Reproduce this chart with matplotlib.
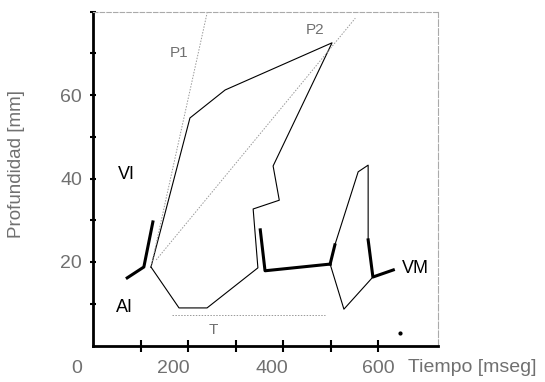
import matplotlib
matplotlib.use("Agg")
import matplotlib.pyplot as plt
import matplotlib.transforms as mtransforms

plt.rcParams['font.family'] = ['Liberation Sans', 'DejaVu Sans']

# thin loop (cycle)
loop_x = [122, 204, 278, 503, 379, 392, 337, 347, 240, 181, 122]
loop_y = [18.8, 54.5, 61.2, 72.5, 43.0, 34.8, 32.7, 18.6, 9.0, 9.0, 18.8]

# thick segments
ai_x = [72, 107, 126]
ai_y = [16.2, 18.8, 29.6]
mid_x = [352, 362, 499]
mid_y = [27.7, 17.9, 19.5]

# VM loop
vm_thin1_x = [509, 558, 579, 579]
vm_thin1_y = [24.1, 41.6, 43.2, 25.3]
vm_thin2_x = [589, 528, 499]
vm_thin2_y = [16.4, 8.7, 19.5]
vm_thick1_x = [499, 509]
vm_thick1_y = [19.5, 24.1]
vm_thick2_x = [579, 589, 632]
vm_thick2_y = [25.3, 16.4, 18.1]

# dotted guides
p1_x = [122, 240]
p1_y = [18.8, 79.6]
p2_x = [133, 552]
p2_y = [20.5, 78.4]
t_x = [166, 488]
t_y = [7.3, 7.3]

dot_x = [646]
dot_y = [3]

xtick_marks = [100, 200, 300, 400, 500, 600]
xlabel_text = ['0', '200', '400', '600']
xlabel_pos = [-34, 170, 377, 600]
ytick_major = [20, 40, 60]
ytick_minor = [10, 30, 50, 70, 80]

gray = '#707070'

fig = plt.figure(figsize=(5.45, 3.82), dpi=100)
ax = fig.add_axes([93/545, 1 - 345.5/382, 345/545, 334/382])

ax.plot(loop_x, loop_y, color='black', lw=0.8)
ax.plot(ai_x, ai_y, color='black', lw=2.2)
ax.plot(mid_x, mid_y, color='black', lw=2.2)
ax.plot(vm_thin1_x, vm_thin1_y, color='black', lw=0.8)
ax.plot(vm_thin2_x, vm_thin2_y, color='black', lw=0.8)
ax.plot(vm_thick1_x, vm_thick1_y, color='black', lw=2.2)
ax.plot(vm_thick2_x, vm_thick2_y, color='black', lw=2.2)
ax.plot(p1_x, p1_y, color='#999999', lw=0.7, ls=(0, (1.5, 1.5)))
ax.plot(p2_x, p2_y, color='#999999', lw=0.7, ls=(0, (1.5, 1.5)))
ax.plot(t_x, t_y, color='#999999', lw=0.7, ls=(0, (1.5, 1.5)))
ax.plot(dot_x, dot_y, 'o', color='black', ms=2)

ax.text(71, 40.9, 'VI', fontsize=13, color='black', ha='center', va='center')
ax.text(67, 9, 'AI', fontsize=13, color='black', ha='center', va='center')
ax.text(678, 18.5, 'VM', fontsize=13, color='black', ha='center', va='center')
ax.text(181, 70, 'P1', fontsize=11, color=gray, ha='center', va='center')
ax.text(467, 75.6, 'P2', fontsize=11, color=gray, ha='center', va='center')
ax.text(253, 3.7, 'T', fontsize=11, color=gray, ha='center', va='center')

ax.set_xlim(0, 726)
ax.set_ylim(0, 80)

ax.spines['left'].set_linewidth(2)
ax.spines['bottom'].set_linewidth(2)
ax.spines['top'].set_color('#aaaaaa')
ax.spines['top'].set_linewidth(0.8)
ax.spines['top'].set_linestyle((0, (4, 2)))
ax.spines['right'].set_color('#aaaaaa')
ax.spines['right'].set_linewidth(0.8)
ax.spines['right'].set_linestyle((0, (6, 2)))

ax.set_xticks(xtick_marks)
ax.set_xticklabels([])
ax.tick_params(axis='x', direction='inout', length=9, width=1.5, color='black')

ax.set_yticks(ytick_major)
ax.set_yticks(ytick_minor, minor=True)
ax.tick_params(axis='y', which='both', direction='inout', length=4, width=1.5,
               color='black', labelsize=14, labelcolor=gray, pad=6)

trans = mtransforms.blended_transform_factory(ax.transData, ax.transAxes)
for pos, lab in zip(xlabel_pos, xlabel_text):
    ax.text(pos, -0.068, lab, transform=trans, fontsize=14, color=gray,
            ha='center', va='center', clip_on=False)

fig.text(17/545, 1 - 164/382, 'Profundidad [mm]', rotation=90, fontsize=13.5,
         color=gray, ha='center', va='center')
fig.text(408/545, 1 - 368/382, 'Tiempo [mseg]', fontsize=14, color=gray,
         ha='left', va='center')

fig.savefig('out.png', dpi=100)
